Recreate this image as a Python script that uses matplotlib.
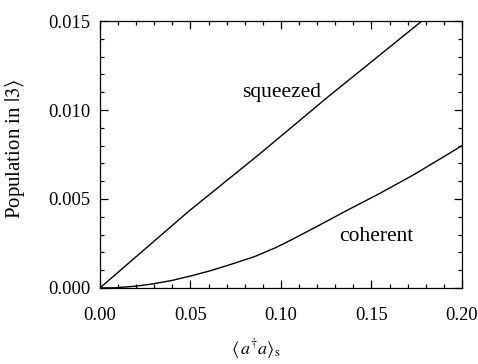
import matplotlib
matplotlib.use("Agg")
import matplotlib.pyplot as plt
from matplotlib.ticker import MultipleLocator

plt.rcParams['font.family'] = ['Liberation Serif', 'DejaVu Serif']
plt.rcParams['mathtext.fontset'] = 'stix'

# values
n_sq = [0.0, 0.0488, 0.0875, 0.126, 0.1786]
p_sq = [0.0, 0.00429, 0.00747, 0.01074, 0.01506]

n_coh = [0.0, 0.0083, 0.0193, 0.0286, 0.0396, 0.0507, 0.0617, 0.0746, 0.0856,
         0.0967, 0.1022, 0.1179, 0.1363, 0.1547, 0.1731, 0.1915, 0.20]
p_coh = [0.0, 0.00001, 0.0001, 0.00022, 0.00042, 0.00069, 0.00099, 0.0014, 0.00177,
         0.00225, 0.00252, 0.00335, 0.00435, 0.00532, 0.00635, 0.00747, 0.0080]

fig = plt.figure(figsize=(4.78, 3.64), dpi=100)
ax = fig.add_axes([0.209, 0.2088, 0.7575, 0.7335])

ax.plot(n_sq, p_sq, color='black', lw=1.0)
ax.plot(n_coh, p_coh, color='black', lw=1.0)

ax.set_xlim(0, 0.2)
ax.set_ylim(0, 0.015)
ax.xaxis.set_major_locator(MultipleLocator(0.05))
ax.xaxis.set_minor_locator(MultipleLocator(0.01))
ax.yaxis.set_major_locator(MultipleLocator(0.005))
ax.yaxis.set_minor_locator(MultipleLocator(0.001))
ax.xaxis.set_major_formatter(lambda v, p: f"{v:.2f}")
ax.yaxis.set_major_formatter(lambda v, p: f"{v:.3f}")
ax.tick_params(which='both', direction='in', top=True, right=True, labelsize=13.3, width=0.9)
ax.tick_params(which='major', length=6)
ax.tick_params(axis='x', which='major', pad=14)
ax.tick_params(axis='y', which='major', pad=7)
ax.tick_params(which='minor', length=3)
for s in ax.spines.values():
    s.set_linewidth(0.9)

ax.text(0.1006, 0.0110, 'squeezed', fontsize=15.5, ha='center', va='center')
ax.text(0.1525, 0.0029, 'coherent', fontsize=15.5, ha='center', va='center')

ax.set_ylabel(r'Population in $|3\rangle$', fontsize=15)
ax.yaxis.set_label_coords(-0.2, 0.52)
ax.set_xlabel(r'$\langle\, a^{\dagger}a\rangle_{\rm s}$', fontsize=13)
ax.xaxis.set_label_coords(0.43, -0.185)

fig.savefig('out.png', dpi=100)
